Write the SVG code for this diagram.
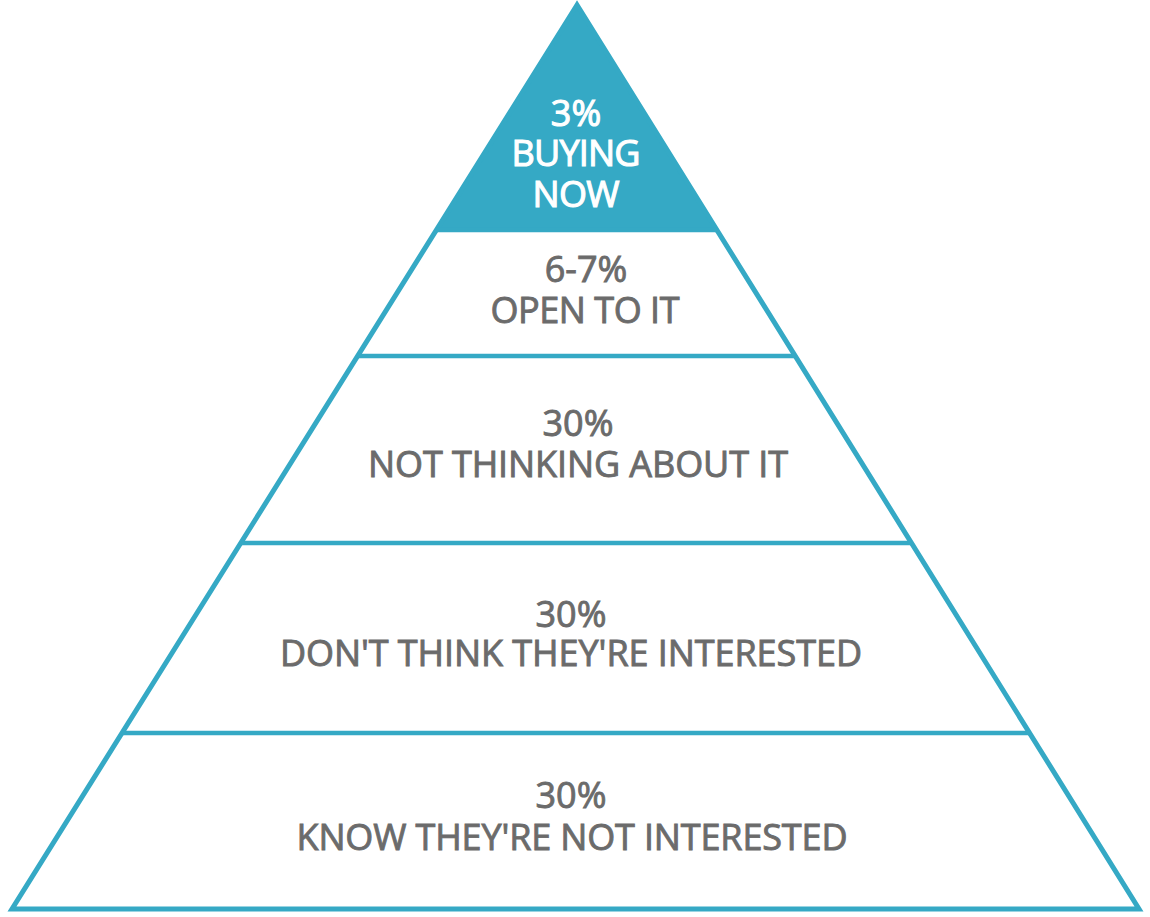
<svg xmlns="http://www.w3.org/2000/svg" width="1150" height="917" viewBox="0 0 1150 917">
  <style>
    .edge { stroke: #35a9c5; fill: none; stroke-width: 5; stroke-linejoin: miter; }
    .band { stroke: #35a9c5; stroke-width: 4.5; }
    .lbl { font-family: "Open Sans", "DejaVu Sans", sans-serif; font-weight: 400; font-size: 36px; fill: #6b6b6b; stroke: #6b6b6b; stroke-width: 0.9; text-anchor: middle; }
    .top { fill: #ffffff; stroke: #ffffff; stroke-width: 1.1; }
  </style>
  <rect width="1150" height="917" fill="#ffffff"/>
  <g id="tier-top">
    <polygon points="577,5 436.6,230 717,230" fill="#35a9c5"/>
    <text class="lbl top" x="576" y="126">3%</text>
    <text class="lbl top" x="576" y="166" textLength="129">BUYING</text>
    <text class="lbl top" x="576" y="207" textLength="87">NOW</text>
  </g>
  <g id="outline">
    <polygon class="edge" points="577,5 12,909 1139,909"/>
  </g>
  <g id="dividers">
    <line class="band" x1="436.6" y1="230" x2="716.6" y2="230"/>
    <line class="band" x1="357.6" y1="356" x2="795.2" y2="356"/>
    <line class="band" x1="240.7" y1="543" x2="911.5" y2="543"/>
    <line class="band" x1="122" y1="733" x2="1029.6" y2="733"/>
  </g>
  <g id="tier-2">
    <text class="lbl" x="586" y="282">6-7%</text>
    <text class="lbl" x="585" y="323" textLength="189">OPEN TO IT</text>
  </g>
  <g id="tier-3">
    <text class="lbl" x="578" y="436">30%</text>
    <text class="lbl" x="578" y="477" textLength="420">NOT THINKING ABOUT IT</text>
  </g>
  <g id="tier-4">
    <text class="lbl" x="571" y="627">30%</text>
    <text class="lbl" x="571" y="666" textLength="582">DON'T THINK THEY'RE INTERESTED</text>
  </g>
  <g id="tier-5">
    <text class="lbl" x="571" y="808">30%</text>
    <text class="lbl" x="572" y="850" textLength="551">KNOW THEY'RE NOT INTERESTED</text>
  </g>
</svg>
